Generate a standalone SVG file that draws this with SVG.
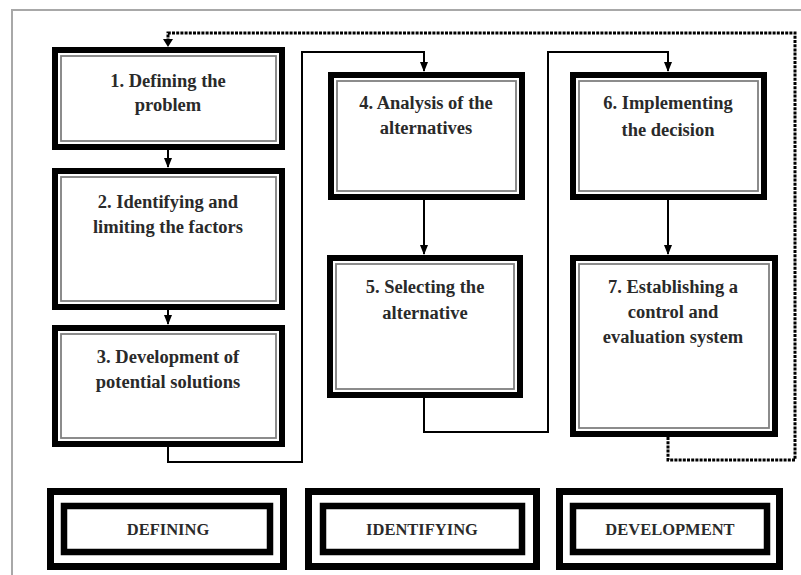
<svg xmlns="http://www.w3.org/2000/svg" width="801" height="575" viewBox="0 0 801 575">
<style>
.bx{fill:#fff;stroke:#000;stroke-width:6}
.in{fill:none;stroke:#808080;stroke-width:1.8}
.t{font-family:"Liberation Serif","Times New Roman",serif;font-weight:bold;font-size:18.5px;fill:#2a2a2a;text-anchor:middle}
.lb{font-family:"Liberation Serif","Times New Roman",serif;font-weight:bold;font-size:16.5px;fill:#2a2a2a;text-anchor:middle}
.ob{fill:#fff;stroke:#000;stroke-width:7}
.ib{fill:#fff;stroke:#000;stroke-width:6.5}
.c{fill:none;stroke:#000;stroke-width:2}
.d{fill:none;stroke:#000;stroke-width:3;stroke-dasharray:3 1.2}
</style>
<defs>
<marker id="ah" markerWidth="10" markerHeight="8" refX="9" refY="4" orient="auto" markerUnits="userSpaceOnUse">
<path d="M0,0 L10,4 L0,8 Z" fill="#000"/>
</marker>
</defs>
<rect width="801" height="575" fill="#fff"/>
<rect x="12" y="10" width="800" height="580" fill="none" stroke="#a8a8a8" stroke-width="2"/>

<g id="connectors">
<path class="c" d="M168,150 V167" marker-end="url(#ah)"/>
<path class="c" d="M168,310 V324" marker-end="url(#ah)"/>
<path class="c" d="M168,447 V462 H302 V52 H424 V71" marker-end="url(#ah)"/>
<path class="c" d="M424,200 V254" marker-end="url(#ah)"/>
<path class="c" d="M424,398 V432 H548 V52 H668 V71" marker-end="url(#ah)"/>
<path class="c" d="M668,200 V254" marker-end="url(#ah)"/>
<path class="d" d="M668,437 V460 H795 V33 H168 V40"/>
<path d="M163,39 L173,39 L168,47 Z" fill="#000"/>
</g>

<g id="n1">
<rect class="bx" x="55" y="50" width="227" height="97"/>
<rect class="in" x="61" y="56" width="215" height="85"/>
<text class="t" x="168" y="87">1. Defining the</text>
<text class="t" x="168" y="111">problem</text>
</g>
<g id="n2">
<rect class="bx" x="55" y="171" width="227" height="136"/>
<rect class="in" x="61" y="177" width="215" height="124"/>
<text class="t" x="168" y="208">2. Identifying and</text>
<text class="t" x="168" y="233">limiting the factors</text>
</g>
<g id="n3">
<rect class="bx" x="55" y="328" width="227" height="116"/>
<rect class="in" x="61" y="334" width="215" height="104"/>
<text class="t" x="168" y="363">3. Development of</text>
<text class="t" x="168" y="388">potential solutions</text>
</g>
<g id="n4">
<rect class="bx" x="331" y="75" width="191" height="122"/>
<rect class="in" x="337" y="81" width="179" height="110"/>
<text class="t" x="426" y="109">4. Analysis of the</text>
<text class="t" x="426" y="134">alternatives</text>
</g>
<g id="n5">
<rect class="bx" x="330" y="258" width="190" height="137"/>
<rect class="in" x="336" y="264" width="178" height="125"/>
<text class="t" x="425" y="293">5. Selecting the</text>
<text class="t" x="425" y="319">alternative</text>
</g>
<g id="n6">
<rect class="bx" x="573" y="75" width="191" height="122"/>
<rect class="in" x="579" y="81" width="179" height="110"/>
<text class="t" x="668" y="109">6. Implementing</text>
<text class="t" x="668" y="136">the decision</text>
</g>
<g id="n7">
<rect class="bx" x="573" y="258" width="202" height="176"/>
<rect class="in" x="579" y="264" width="190" height="164"/>
<text class="t" x="673" y="293">7. Establishing a</text>
<text class="t" x="673" y="318">control and</text>
<text class="t" x="673" y="343">evaluation system</text>
</g>

<g id="l1">
<rect class="ob" x="50.5" y="491.5" width="233" height="75"/>
<rect class="ib" x="64" y="506" width="206" height="46"/>
<text class="lb" x="168" y="535">DEFINING</text>
</g>
<g id="l2">
<rect class="ob" x="308.5" y="491.5" width="228" height="75"/>
<rect class="ib" x="323" y="506" width="199" height="46"/>
<text class="lb" x="422" y="535">IDENTIFYING</text>
</g>
<g id="l3">
<rect class="ob" x="559.5" y="491.5" width="220" height="75"/>
<rect class="ib" x="573" y="506" width="194" height="46"/>
<text class="lb" x="670" y="535">DEVELOPMENT</text>
</g>
</svg>
